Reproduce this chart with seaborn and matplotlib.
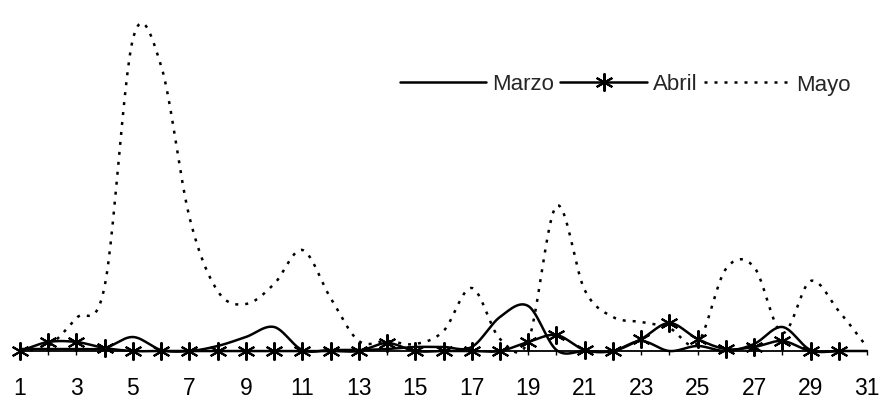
import numpy as np
import matplotlib
matplotlib.use("Agg")
import matplotlib.pyplot as plt
from matplotlib.lines import Line2D
import seaborn as sns

# daily values (arbitrary units, y axis not shown)
dias_marzo = list(range(1, 32))
marzo = [2, 2, 2, 3, 14, 1, 0, 5, 14, 24, 1, 1, 1, 2, 4, 4, 4, 34, 45, 1,
         0, 0, 10, 0, 5, 0, 7, 24, 1, 0, 0]

dias_abril = list(range(1, 31))
abril = [0, 9, 9, 3, 0, 0, 0, 0, 0, 0, 0, 0, 0, 8, 0, 0, 0, 0, 9, 16,
         1, 0, 12, 28, 12, 2, 4, 10, 0, 0]

dias_mayo = list(range(1, 32))
mayo = [0, 5, 33, 65, 312, 285, 134, 60, 47, 67, 101, 53, 10, 10, 7, 20, 63, 12, 10, 145,
        61, 34, 29, 23, 8, 82, 84, 18, 70, 40, 4]

etiquetas = [str(d) for d in range(1, 32, 2)]


def smooth(xs, ys, n=24):
    # Catmull-Rom style curve through the points (like Excel "smoothed line")
    x = np.asarray(xs, float)
    y = np.asarray(ys, float)
    m = np.gradient(y)
    t = np.linspace(0, 1, n, endpoint=False)
    h00 = 2 * t**3 - 3 * t**2 + 1
    h10 = t**3 - 2 * t**2 + t
    h01 = -2 * t**3 + 3 * t**2
    h11 = t**3 - t**2
    xx, yy = [], []
    for i in range(len(x) - 1):
        xx.append(x[i] + t * (x[i + 1] - x[i]))
        yy.append(h00 * y[i] + h10 * m[i] + h01 * y[i + 1] + h11 * m[i + 1])
    xx.append([x[-1]])
    yy.append([y[-1]])
    return np.concatenate(xx), np.concatenate(yy)


sns.set_style("white")
plt.rcParams['font.family'] = ['Liberation Sans', 'DejaVu Sans']

fig = plt.figure(figsize=(8.8, 4.06), dpi=100)
ax = fig.add_axes([20 / 880, 1 - 352 / 406, 847 / 880, 345 / 406])

lw = 1.8
punteado = (0, (1.2, 2.8))
asterisco = dict(marker=(6, 2, 0), ms=13, mew=1.5)

xs, ys = smooth(dias_marzo, marzo)
sns.lineplot(x=xs, y=ys, ax=ax, color="black", lw=lw, sort=False, estimator=None)
xs, ys = smooth(dias_abril, abril)
sns.lineplot(x=xs, y=ys, ax=ax, color="black", lw=lw, sort=False, estimator=None)
ax.plot(dias_abril, abril, ls="none", color="black", **asterisco)
xs, ys = smooth(dias_mayo, mayo)
sns.lineplot(x=xs, y=ys, ax=ax, color="black", lw=lw, sort=False, estimator=None,
             linestyle=punteado)

for ln in ax.lines:
    ln.set_clip_on(False)

ax.set_xlim(1, 31)
ax.set_ylim(0, 345)
ax.set_xticks(range(1, 32, 2))
ax.set_xticklabels(etiquetas)
ax.set_xticks(range(2, 31, 2), minor=True)
ax.set_yticks([])
ax.tick_params(axis="x", which="both", direction="out", length=3, width=1, colors="black",
               labelsize=16.5, pad=15, bottom=True)
for s in ["top", "right", "left"]:
    ax.spines[s].set_visible(False)
ax.spines["bottom"].set_color("black")
ax.spines["bottom"].set_linewidth(1.3)
ax.set_xlabel("")
ax.set_ylabel("")

handles = [
    Line2D([], [], color="black", lw=lw),
    Line2D([], [], color="black", lw=lw, **asterisco),
    Line2D([], [], color="black", lw=lw, linestyle=punteado),
]
fig.legend(handles, ["Marzo", "Abril", "Mayo"], ncol=3, frameon=False, loc="center",
           bbox_to_anchor=(625 / 880, 1 - 85 / 406), fontsize=16, handlelength=3.9,
           handletextpad=0.25, columnspacing=0.3)

fig.savefig("out.png", dpi=100, facecolor="white")
